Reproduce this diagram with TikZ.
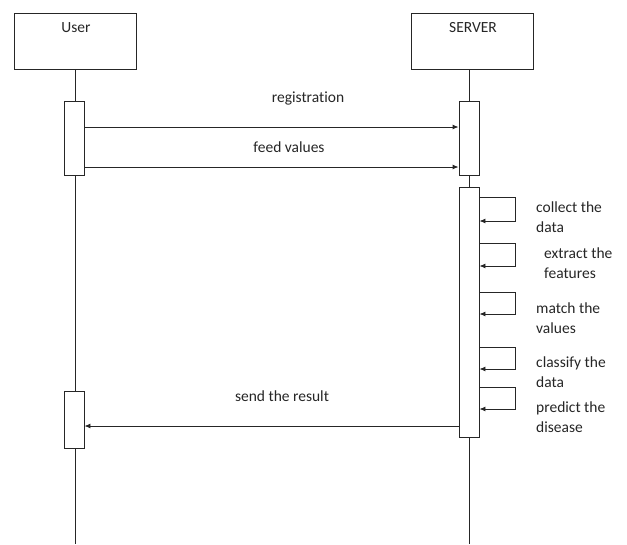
\documentclass[tikz,border=0pt]{standalone}
\usepackage{fontspec}
\setmainfont{Carlito}[Ligatures=NoCommon]
\usetikzlibrary{arrows.meta}
\begin{document}
\begin{tikzpicture}[x=1pt,y=-1pt,
  line/.style={draw=black!85, line width=0.9pt},
  msg/.style={line, -{Latex[length=6pt,width=5pt]}},
  actor/.style={line, fill=white, minimum width=122pt, minimum height=56pt, inner sep=0pt},
  act/.style={line, fill=white, minimum width=20pt, inner sep=0pt},
  txt/.style={font=\fontsize{15.5}{20}\selectfont, inner sep=0pt, text=black!85},
  side/.style={txt, align=left, anchor=west}]
\useasboundingbox (0,0) rectangle (627,544);
% actors
\node[actor] (user) at (75,41) {};
\node[txt] (userlbl) at (76,28) {User};
\node[actor] (server) at (472,41) {};
\node[txt] (serverlbl) at (473,28) {SERVER};
% lifeline ends
\coordinate (uend) at (75,544);
\coordinate (send) at (469,544);
\draw[line] (user.south) -- (uend);
\draw[line] (server.south -| send) -- (send);
% activations
\node[act, minimum height=74pt] (ua1) at (74,138) {};
\node[act, minimum height=57pt] (ua2) at (74,419.5) {};
\node[act, minimum height=74pt] (sa1) at (469,138) {};
\node[act, minimum height=250pt] (sa2) at (469,312) {};
% messages
\draw[msg] (ua1.east |- 0,127) -- (sa1.west |- 0,127);
\node[txt] (m1) at (308,98) {registration};
\draw[msg] (ua1.east |- 0,167) -- (sa1.west |- 0,167);
\node[txt] (m2) at (289,147) {feed values};
\draw[msg] (sa2.west |- 0,426) -- (ua2.east |- 0,426);
\node[txt] (m3) at (282,396) {send the result};
% self loops
\foreach \t/\b in {197/221, 243/266, 292/314, 347/369, 387/409}{
  \draw[msg] (sa2.east |- 0,\t) -- (515,\t) -- (515,\b) -- (sa2.east |- 0,\b);
}
\node[side] (l1) at (536,217.5) {collect the\\data};
\node[side] (l2) at (544,263) {extract the\\features};
\node[side] (l3) at (536,318) {match the\\values};
\node[side] (l4) at (536,372) {classify the\\data};
\node[side] (l5) at (536,417) {predict the\\disease};
\end{tikzpicture}
\end{document}
